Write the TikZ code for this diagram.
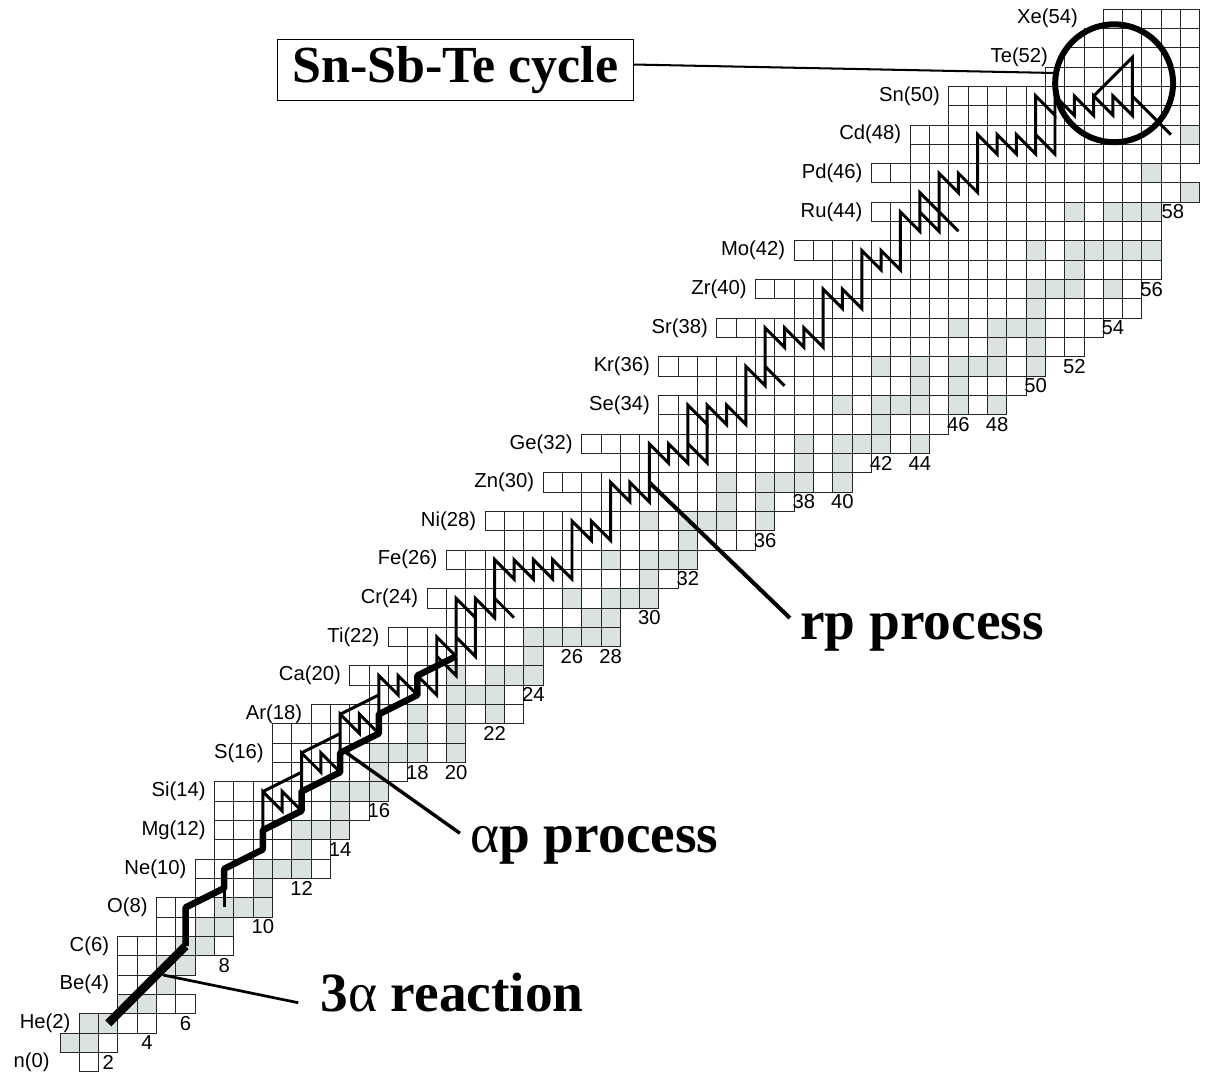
\documentclass[tikz,border=0pt]{standalone}
\usepackage{fontspec}
\setmainfont{Liberation Sans}
\newfontfamily\timesfont{Liberation Serif}
\definecolor{stablefill}{RGB}{218,226,226}
\begin{document}
\begin{tikzpicture}[x=0.5cm,y=0.5cm,
  cell/.style={draw=black!85,line width=0.7pt},
  zlabel/.style={anchor=east,inner sep=0pt,font=\fontsize{14.9}{16}\selectfont},
  nlabel/.style={inner sep=0pt,font=\fontsize{14.9}{16}\selectfont},
  bigtext/.style={inner sep=0pt,font=\timesfont\bfseries\fontsize{40.8}{44}\selectfont},
  alphapath/.style={line width=4.8pt,line join=round},
  rppath/.style={line width=2.2pt,line join=miter,miter limit=6}]
\useasboundingbox (-3.606,-0.7226) rectangle (58.92,54.97);
% stable nuclides
\foreach \z/\n in {1/0,1/1,2/1,2/2,3/3,3/4,4/5,5/5,5/6,6/6,6/7,7/7,7/8,8/8,8/9,8/10,9/10,
  10/10,10/11,10/12,11/12,12/12,12/13,12/14,13/14,14/14,14/15,14/16,15/16,16/16,16/17,16/18,16/20,
  17/18,17/20,18/18,18/20,18/22,19/20,19/21,19/22,20/20,20/22,20/23,20/24,21/24,22/24,22/25,22/26,
  22/27,22/28,23/27,23/28,24/26,24/28,24/29,24/30,25/30,26/28,26/30,26/31,26/32,27/32,28/30,28/32,
  28/33,28/34,28/36,29/34,29/36,30/34,30/36,30/37,30/38,30/40,31/38,31/40,32/38,32/40,32/41,32/42,
  32/44,33/42,34/40,34/42,34/43,34/44,34/46,34/48,35/44,35/46,36/42,36/44,36/46,36/47,36/48,36/50,
  37/48,37/50,38/46,38/48,38/49,38/50,39/50,40/50,40/51,40/52,40/54,41/52,42/50,42/52,42/53,42/54,
  42/55,42/56,44/52,44/54,44/55,44/56,45/58,46/56,48/58}
  \fill[stablefill] (\n-0.5,\z-0.5) rectangle +(1,1);
% rows of the chart: Z / first N / last N
\foreach \z/\a/\b in {0/1/1,1/0/2,2/1/4,3/3/6,4/3/5,5/3/6,6/3/8,7/5/8,8/5/10,9/7/10,10/7/13,
  11/8/13,12/8/14,13/8/15,14/8/16,15/11/17,16/11/20,17/11/20,18/13/23,19/16/23,20/15/24,21/18/24,
  22/17/28,23/20/28,24/19/30,25/21/31,26/20/32,27/23/35,28/22/36,29/27/37,30/25/40,31/29/41,
  32/27/44,33/31/45,34/31/48,35/33/49,36/31/50,37/36/52,38/34/53,39/38/55,40/36/55,41/40/56,
  42/38/56,43/43/56,44/42/56,45/44/58,46/42/57,47/44/58,48/44/58,49/46/58,50/46/58,51/51/58,
  52/52/58,53/53/58,54/54/58}
  {\foreach \n in {\a,...,\b} \draw[cell] (\n-0.5,\z-0.5) rectangle +(1,1);}
% element labels
\foreach \z/\el/\x in {0/n/-1.02,2/He/0.05,4/Be/2.05,6/C/2.05,8/O/4.05,10/Ne/6.05,12/Mg/7.05,
  14/Si/7.05,16/S/10.05,18/Ar/12.05,20/Ca/14.05,22/Ti/16.05,24/Cr/18.05,26/Fe/19.05,28/Ni/21.05,
  30/Zn/24.05,32/Ge/26.05,34/Se/30.05,36/Kr/30.05,38/Sr/33.05,40/Zr/35.05,42/Mo/37.05,44/Ru/41.05,
  46/Pd/41.05,48/Cd/43.05,50/Sn/45.05,52/Te/50.65,54/Xe/52.2}
  \node[zlabel] (zl-\z) at (\x,\z) {\el(\z)};
% neutron numbers
\foreach \n/\z in {2/0,4/1,6/2,8/5,10/7,12/9,14/11,16/13,18/15,20/15,22/17,24/19,26/21,28/21,
  30/23,32/25,36/27,38/29,40/29,42/31,44/31,46/33,48/33,50/35,52/36,54/38,56/40}
  \node[nlabel] (nl-\n) at (\n,\z) {\n};
\node[nlabel] (nl-58) at (57.1,44) {58};
% triple alpha and alpha-p process
\draw[line width=6.3pt] (2,2) -- (6,6);
\draw[alphapath] (6,6)--(6,8)--(8,9)--(8,10)--(10,11)--(10,12)--(12,13)--(12,14)--(14,15)--(14,16)
  --(16,17)--(16,18)--(18,19)--(18,20)--(20,21);
\draw[line width=2.2pt] (8,9)--(8,8);
% side branches of the alpha-p process
\draw[rppath] (10,12)--(10,14)--(11,13)--(11,14)--(12,13);
\draw[rppath] (10,14)--(12,15);
\draw[rppath] (12,14)--(12,16)--(13,15)--(13,16)--(14,15);
\draw[rppath] (12,16)--(14,17);
\draw[rppath] (14,16)--(14,18)--(15,17)--(15,18)--(16,17);
\draw[rppath] (14,18)--(16,19);
\draw[rppath] (16,18)--(16,20)--(17,19)--(17,20)--(18,19);
\draw[rppath] (18,20)--(19,19)--(19,22)--(20,21);
\draw[rppath] (19,21)--(20,20)--(20,21);
% rp process
\draw[rppath] (20,21)--(20,24)--(21,23)--(21,24)--(22,23)--(22,24)--(23,23);
\draw[rppath] (20,22)--(21,21)--(21,23);
\draw[rppath] (22,23)--(22,26)--(23,25)--(23,26)--(24,25)--(24,26)--(25,25)--(25,26)--(26,25)
  --(26,28)--(27,27)--(27,28)--(28,27)--(28,30)--(29,29)--(29,30)--(30,29)--(30,32)--(31,31)
  --(31,32)--(32,31)--(32,34)--(33,33)--(33,34)--(34,33)--(34,34)--(35,33)--(35,36)--(36,35)
  --(36,38)--(37,37)--(37,38)--(38,37)--(38,38)--(39,37)--(39,40)--(40,39)--(40,40)--(41,39)
  --(41,42)--(42,41)--(42,42)--(43,41)--(43,44)--(44,43)--(44,45)--(45,44)--(46,43);
\draw[rppath] (32,32)--(33,31)--(33,33);
\draw[rppath] (36,36)--(37,35);
\draw[rppath] (44,44)--(45,43)--(45,46)--(46,45)--(46,46)--(47,45)--(47,48)--(48,47)--(48,48)
  --(49,47)--(49,48)--(50,47)--(50,50)--(51,49)--(51,50)--(52,49)--(52,50)--(53,49)--(53,50)
  --(54,49)--(54,50)--(55,49)--(55,52)--(53,50);
\draw[rppath] (50,48)--(51,47)--(51,49);
\draw[rppath] (55,50)--(57,48);
% labels of the processes
\node[bigtext,anchor=base west] (rp) at (37.8,21.85) {rp process};
\node[bigtext,anchor=base west] (ap) at (20.72,10.87) {{\mdseries α}p process};
\node[bigtext,anchor=base west] (ta) at (12.96,2.59) {3{\mdseries α} reaction};
\node[draw,line width=0.8pt,minimum width=9.19cm,minimum height=1.58cm,inner sep=0pt,
  font=\timesfont\bfseries\fontsize{38.3}{42}\selectfont] (cyc) at (19.97,51.35) {Sn-Sb-Te cycle};
\node[circle,draw,line width=4.4pt,minimum size=3.05cm,inner sep=0pt,outer sep=0pt] (ring) at (54.06,50.66) {};
% leader lines
\coordinate (rpfrom) at (30,30);
\coordinate (rpto) at (37.28,22.98);
\coordinate (apfrom) at (14.25,16.06);
\coordinate (apto) at (20.2,11.84);
\coordinate (tafrom) at (4.85,4.5);
\coordinate (tato) at (11.83,3.07);
\draw[line width=3pt] (rpfrom) -- (rpto);
\draw[line width=2.5pt] (apfrom) -- (apto);
\draw[line width=2pt] (tafrom) -- (tato);
\draw[line width=1.5pt] ([yshift=0.14cm]cyc.east) -- (ring.170);
\end{tikzpicture}
\end{document}
